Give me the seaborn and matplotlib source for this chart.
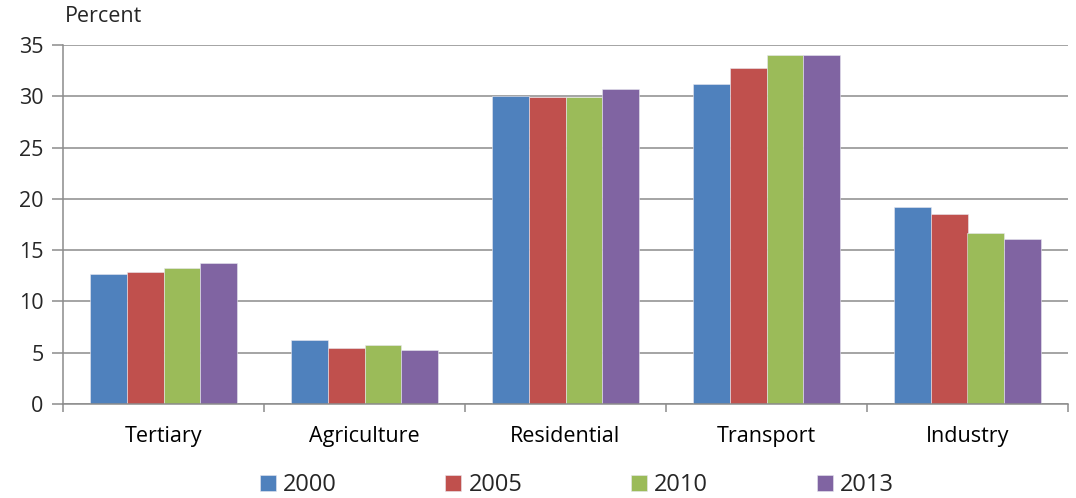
import matplotlib
matplotlib.use("Agg")
import matplotlib.pyplot as plt
import seaborn as sns
import pandas as pd
import numpy as np

categories = ["Tertiary", "Agriculture", "Residential", "Transport", "Industry"]
years = ["2000", "2005", "2010", "2013"]
v2000 = [12.7, 6.2, 30.0, 31.2, 19.2]
v2005 = [12.9, 5.45, 29.9, 32.8, 18.5]
v2010 = [13.3, 5.8, 29.9, 34.0, 16.7]
v2013 = [13.7, 5.25, 30.7, 34.0, 16.1]
colors = ["#4F81BD", "#C0504D", "#9BBB59", "#8064A2"]

rows = []
for y, vals in zip(years, [v2000, v2005, v2010, v2013]):
    for c, v in zip(categories, vals):
        rows.append({"category": c, "year": y, "value": v})
df = pd.DataFrame(rows)

sns.set_theme(style="white")
plt.rcParams['font.family'] = ['Open Sans', 'DejaVu Sans']

fig = plt.figure(figsize=(10.76, 4.98), dpi=100)
ax = fig.add_axes([63/1076, 1-404/498, (1068-63)/1076, (404-45)/498])

sns.barplot(data=df, x="category", y="value", hue="year", order=categories,
            hue_order=years, palette=colors, width=0.73, saturation=1,
            ax=ax, legend=True, linewidth=0.4, edgecolor="#e8e8f0")

ax.set_ylim(0, 35)
ax.set_xlim(-0.5, 4.5)
ax.set_yticks(range(0, 36, 5))
ax.yaxis.grid(True, color="#8c8c8c", linewidth=1.1)
ax.set_axisbelow(True)
ax.set_xlabel("")
ax.set_ylabel("")
for s in ["top", "right"]:
    ax.spines[s].set_visible(False)
for s in ["left", "bottom"]:
    ax.spines[s].set_color("#8c8c8c")
    ax.spines[s].set_linewidth(1.1)

ax.tick_params(axis="x", which="major", length=0, pad=16, labelsize=15.5, colors="black")
ax.set_xticks(np.arange(-0.5, 5, 1), minor=True)
ax.tick_params(axis="x", which="minor", length=6, color="#8c8c8c", width=1.1, direction="out", bottom=True)
ax.tick_params(axis="y", length=8, color="#8c8c8c", width=1.1, direction="out", labelsize=15.5, pad=6, left=True)

fig.text(65/1076, 1-17/498, "Percent", fontsize=15.5, va="center", ha="left")

handles, labels = ax.get_legend_handles_labels()
ax.get_legend().remove()
fig.legend(handles, labels, loc="center", bbox_to_anchor=(0.536, 1-485/498),
           ncol=4, frameon=False, fontsize=17, columnspacing=4.6,
           handlelength=0.68, handleheight=0.68, handletextpad=0.3)

fig.savefig("out.png", dpi=100)
